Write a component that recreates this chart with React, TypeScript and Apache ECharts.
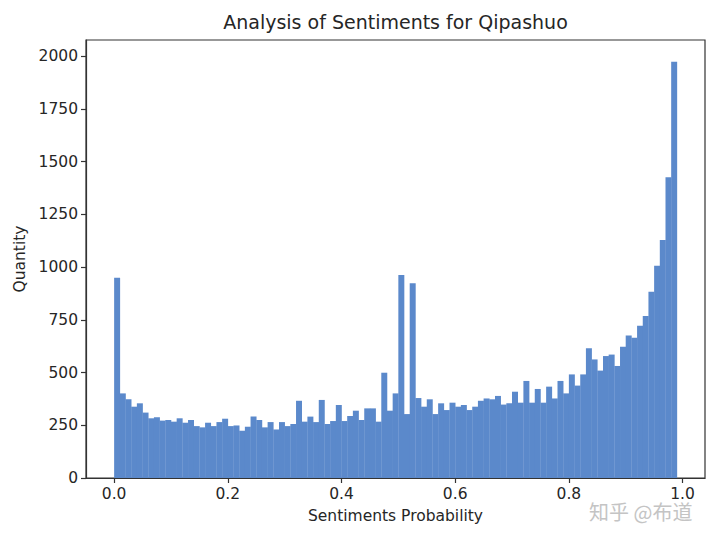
import React, { useEffect, useRef } from "react";
import * as echarts from "echarts";

const TITLE = "Analysis of Sentiments for Qipashuo";
const X_NAME = "Sentiments Probability";
const Y_NAME = "Quantity";
const WATERMARK = "知乎 @布道";

const BIN_WIDTH = 0.01;
const COUNTS = [
  949, 401, 373, 338, 354, 310, 283, 288, 272, 275,
  267, 283, 262, 275, 246, 240, 262, 246, 265, 281,
  246, 249, 224, 243, 291, 275, 240, 265, 230, 265,
  246, 256, 366, 267, 291, 265, 370, 256, 270, 346,
  270, 294, 319, 275, 330, 330, 267, 499, 319, 401,
  962, 303, 923, 379, 338, 373, 303, 354, 322, 357,
  338, 346, 322, 338, 366, 377, 373, 389, 348, 354,
  409, 357, 460, 357, 422, 357, 433, 377, 460, 401,
  491, 438, 491, 615, 562, 509, 578, 585, 531, 622,
  675, 665, 722, 768, 883, 1006, 1128, 1425, 1973,
];
const X_TICKS = [0, 0.2, 0.4, 0.6, 0.8, 1.0];
const Y_TICKS = [0, 250, 500, 750, 1000, 1250, 1500, 1750, 2000];

const X_MIN = -0.0495;
const X_MAX = 1.0395;
const Y_MAX = 2076;

const BAR_COLOR = "#5b89cb";
const TEXT_COLOR = "#262626";
const SPINE_COLOR = "#333333";
const FONT = "DejaVu Sans";

export default function App() {
  const ref = useRef<HTMLDivElement>(null);

  useEffect(() => {
    if (!ref.current) return;
    const chart = echarts.init(ref.current, null, { renderer: "svg" });
    const data = COUNTS.map((c, i) => [i * BIN_WIDTH, (i + 1) * BIN_WIDTH, c]);

    chart.setOption({
      animation: false,
      backgroundColor: "#ffffff",
      grid: {
        left: 86,
        top: 40,
        right: 15,
        bottom: 60,
        show: true,
        borderColor: SPINE_COLOR,
        borderWidth: 1.2,
        backgroundColor: "transparent",
      },
      xAxis: {
        type: "value",
        min: X_MIN,
        max: X_MAX,
        name: X_NAME,
        nameLocation: "middle",
        nameGap: 30,
        nameTextStyle: { fontFamily: FONT, fontSize: 15.5, color: TEXT_COLOR },
        axisLine: { show: true, onZero: false, lineStyle: { color: SPINE_COLOR, width: 1.2 } },
        axisTick: {
          show: true,
          inside: false,
          length: 5,
          customValues: X_TICKS,
          lineStyle: { color: SPINE_COLOR, width: 1.2 },
        },
        axisLabel: {
          customValues: X_TICKS,
          margin: 8,
          fontFamily: FONT,
          fontSize: 15.5,
          color: TEXT_COLOR,
          formatter: (v: number) => v.toFixed(1),
        },
        splitLine: { show: false },
      },
      yAxis: {
        type: "value",
        min: 0,
        max: Y_MAX,
        name: Y_NAME,
        nameLocation: "middle",
        nameGap: 57,
        nameTextStyle: { fontFamily: FONT, fontSize: 15.5, color: TEXT_COLOR },
        axisLine: { show: true, onZero: false, lineStyle: { color: SPINE_COLOR, width: 1.2 } },
        axisTick: {
          show: true,
          inside: false,
          length: 5,
          customValues: Y_TICKS,
          lineStyle: { color: SPINE_COLOR, width: 1.2 },
        },
        axisLabel: {
          customValues: Y_TICKS,
          margin: 8,
          fontFamily: FONT,
          fontSize: 15.5,
          color: TEXT_COLOR,
          formatter: (v: number) => String(v),
        },
        splitLine: { show: false },
      },
      series: [
        {
          type: "custom",
          data,
          encode: { x: [0, 1], y: 2 },
          renderItem: (params: any, api: any) => {
            const start = api.value(0);
            const end = api.value(1);
            const count = api.value(2);
            const p0 = api.coord([start, count]);
            const p1 = api.coord([end, 0]);
            return {
              type: "rect",
              shape: { x: p0[0], y: p0[1], width: p1[0] - p0[0] + 0.3, height: p1[1] - p0[1] },
              style: { fill: BAR_COLOR },
            };
          },
        },
      ],
      graphic: [
        {
          type: "text",
          x: 395.5,
          y: 22,
          style: {
            text: TITLE,
            fontFamily: FONT,
            fontSize: 19,
            fill: TEXT_COLOR,
            textAlign: "center",
            textVerticalAlign: "middle",
          },
        },
        {
          type: "text",
          x: 589,
          y: 511,
          style: {
            text: WATERMARK,
            fontFamily: "Noto Sans CJK SC",
            fontSize: 20,
            fill: "#c4c4c4",
            stroke: "#ffffff",
            lineWidth: 2,
            textAlign: "left",
            textVerticalAlign: "middle",
          },
        },
      ],
    });

    return () => chart.dispose();
  }, []);

  return (
    <div
      ref={ref}
      style={{ position: "absolute", left: 0, top: 0, width: 720, height: 538 }}
    />
  );
}
